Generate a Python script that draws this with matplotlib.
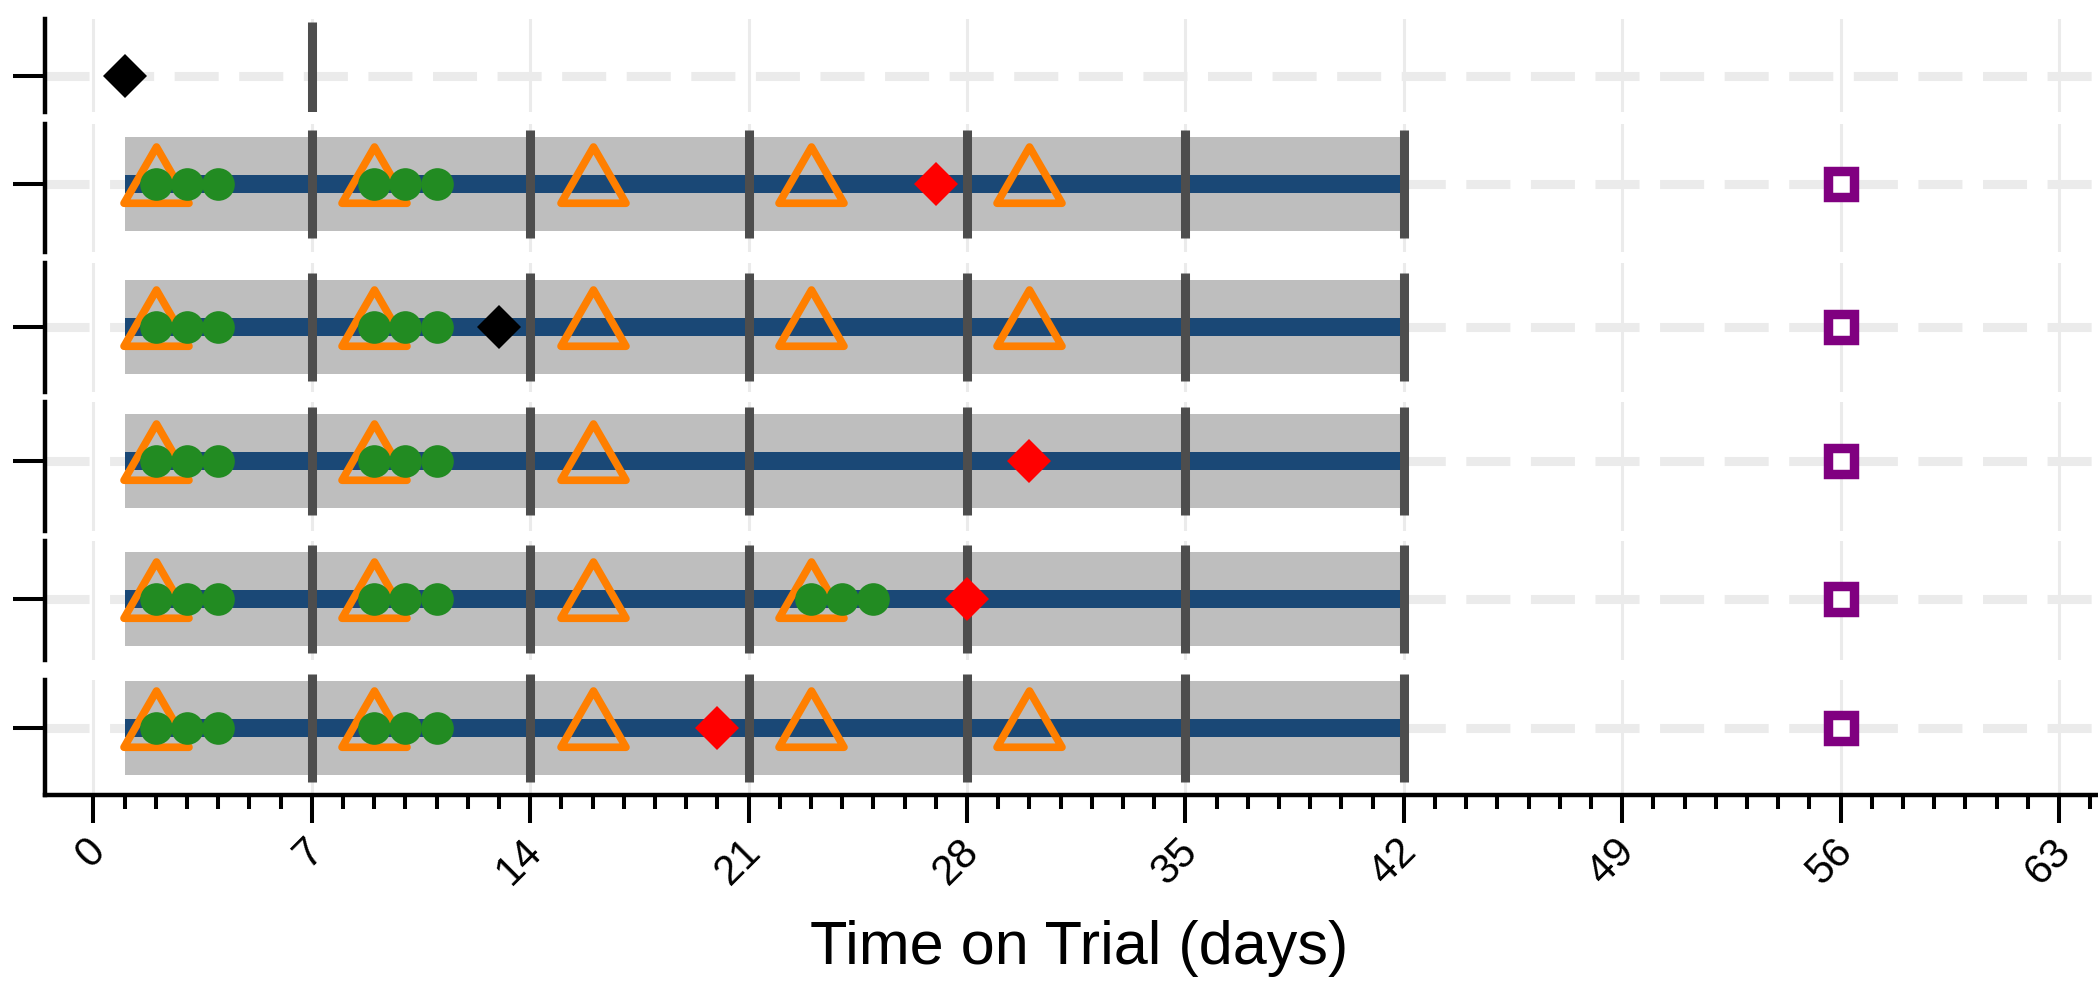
import numpy as np
import matplotlib
matplotlib.use("Agg")
import matplotlib.pyplot as plt
from matplotlib.markers import MarkerStyle
from matplotlib.path import Path
from matplotlib.transforms import ScaledTranslation

plt.rcParams['font.family'] = ['Liberation Sans', 'DejaVu Sans']
plt.rcParams['lines.scale_dashes'] = False

# ---------------- data (rows top to bottom) ----------------
bar_start = [np.nan, 1, 1, 1, 1, 1]
bar_end = [np.nan, 42, 42, 42, 42, 42]
cycle_marks = [[7], [7, 14, 21, 28, 35, 42], [7, 14, 21, 28, 35, 42],
               [7, 14, 21, 28, 35, 42], [7, 14, 21, 28, 35, 42], [7, 14, 21, 28, 35, 42]]
triangle_days = [[], [2, 9, 16, 23, 30], [2, 9, 16, 23, 30], [2, 9, 16],
                 [2, 9, 16, 23], [2, 9, 16, 23, 30]]
green_days = [[], [2, 3, 4, 9, 10, 11], [2, 3, 4, 9, 10, 11], [2, 3, 4, 9, 10, 11],
              [2, 3, 4, 9, 10, 11, 23, 24, 25], [2, 3, 4, 9, 10, 11]]
red_days = [[], [27], [], [30], [28], [20]]
black_days = [[1], [], [13], [], [], []]
square_days = [[], [56], [56], [56], [56], [56]]
x_major = list(range(0, 64, 7))
x_label = "Time on Trial (days)"

# ---------------- layout (pixels) ----------------
W, H = 2098, 988
px = 47.0  # pixels per y unit
rows_px = [(19, 112, 76), (124, 252, 184), (263, 392, 327),
           (402, 531, 461), (541, 660, 599), (680, 795, 728)]
left_px = 45
x0_px, ppd = 93.4, 31.2
xlim = ((left_px - x0_px) / ppd, (W - x0_px) / ppd)

fig = plt.figure(figsize=(W / 100, H / 100), dpi=100)

grid_c = '#ebebeb'
band_c = '#bebebe'
blue_c = '#1a4876'
line_c = '#4d4d4d'
orange_c = '#ff7f00'
green_c = '#228b22'
red_c = '#ff0000'
purple_c = '#800080'

tri_path = Path([(0, 1), (-0.866, -0.5), (0.866, -0.5), (0, 1)],
                [Path.MOVETO, Path.LINETO, Path.LINETO, Path.CLOSEPOLY])
tri_marker = MarkerStyle(tri_path, joinstyle='miter')

axes = []
for i, (top, bot, tick) in enumerate(rows_px):
    ax = fig.add_axes([left_px / W, 1 - bot / H, (W - left_px) / W, (bot - top) / H])
    axes.append(ax)
    ax.set_xlim(*xlim)
    ax.set_ylim(-(bot - tick) / px, (tick - top) / px)
    ax.set_axisbelow(True)
    ax.set_xticks(x_major)
    ax.set_xticks(range(0, 65), minor=True)
    ax.grid(axis='x', which='major', color=grid_c, lw=2.2, zorder=0)
    ax.axhline(0, color=grid_c, lw=6.5, ls=(0, (31.7, 14.8)), zorder=0.5)
    for s in ['top', 'right']:
        ax.spines[s].set_visible(False)
    ax.spines['left'].set_linewidth(3.2)
    ax.set_yticks([0])
    ax.set_yticklabels([])
    ax.tick_params(axis='y', length=23, width=2.9, color='black')
    if i < len(rows_px) - 1:
        ax.spines['bottom'].set_visible(False)
        ax.tick_params(axis='x', which='both', bottom=False, labelbottom=False)

    if not np.isnan(bar_start[i]):
        ax.barh(0, bar_end[i] - bar_start[i], left=bar_start[i], height=2.0,
                color=band_c, zorder=1)
        ax.barh(0, bar_end[i] - bar_start[i], left=bar_start[i], height=18 / px,
                color=blue_c, zorder=2)
    ax.vlines(cycle_marks[i], -54 / px, 54 / px, colors=line_c, lw=6.5,
              capstyle='butt', zorder=3, clip_on=(i == 0))
    if triangle_days[i]:
        ax.plot(triangle_days[i], [0] * len(triangle_days[i]), ls='none',
                marker=tri_marker, ms=54, mfc='none', mec=orange_c, mew=5.5, zorder=4)
    if green_days[i]:
        ax.plot(green_days[i], [0] * len(green_days[i]), ls='none', marker='o',
                ms=23.5, mfc=green_c, mew=0, zorder=5)
    if red_days[i]:
        ax.plot(red_days[i], [0] * len(red_days[i]), ls='none', marker='D',
                ms=22.5, mfc=red_c, mew=0, zorder=6)
    if black_days[i]:
        ax.plot(black_days[i], [0] * len(black_days[i]), ls='none', marker='D',
                ms=22.5, mfc='black', mew=0, zorder=6)
    if square_days[i]:
        ax.plot(square_days[i], [0] * len(square_days[i]), ls='none', marker='s',
                ms=18.5, mfc='white', mec=purple_c, mew=6.8, zorder=6)

axb = axes[-1]
axb.spines['bottom'].set_linewidth(3.2)
axb.tick_params(axis='x', which='major', length=20, width=2.9, pad=6, labelsize=30)
axb.tick_params(axis='x', which='minor', length=10, width=2.9)
axb.set_xticklabels([str(v) for v in x_major], rotation=45, ha='right')
shift = ScaledTranslation(20 / 100, 0 / 100, fig.dpi_scale_trans)
for lab in axb.get_xticklabels():
    lab.set_transform(lab.get_transform() + shift)

fig.text(1079 / W, 1 - 964 / H, x_label, ha='center', va='baseline', fontsize=44)

fig.savefig('out.png', dpi=100)
